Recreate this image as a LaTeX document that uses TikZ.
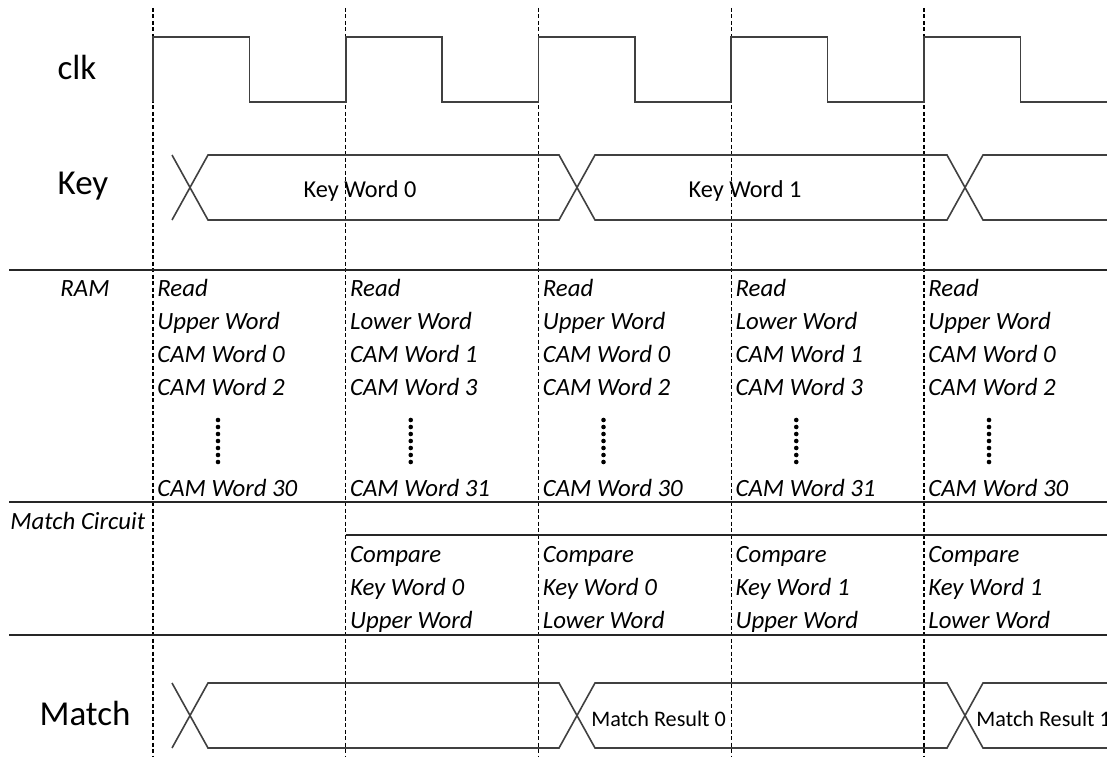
\documentclass[tikz,border=0pt]{standalone}
\usepackage{fontspec}
\setmainfont{Carlito}
\usetikzlibrary{positioning}

\tikzset{
  sepline/.style={line width=1.7pt, black!85},
  cycleline/.style={line width=1.1pt, dash pattern=on 4pt off 2.5pt},
  sigline/.style={line width=1.6pt, black!75, line join=miter},
  biglabel/.style={font=\fontsize{35}{40}\selectfont, anchor=base, inner sep=0pt},
  cell/.style={font=\fontsize{24.8}{28}\selectfont\itshape, anchor=base west, inner sep=0pt},
  buslabel/.style={font=\fontsize{24.3}{28}\selectfont, anchor=base, inner sep=0pt},
  reslabel/.style={font=\fontsize{22.2}{26}\selectfont, anchor=base west, inner sep=0pt},
}

\begin{document}
\begin{tikzpicture}[x=1pt, y=-1pt, >=stealth, thick]
        \useasboundingbox (0,0) rectangle (1107,757);

        % Cycle boundaries
        \foreach \i in {0,...,4}
            \draw[cycleline] ({153+192.75*\i},8) -- ++(0,749);

        % Row separators
        \draw[sepline] (9,270) -- (1107,270);
        \draw[sepline] (9,502) -- (1107,502);
        \draw[sepline] (345.75,535) -- (1107,535);
        \draw[sepline] (9,635) -- (1107,635);

        % Clock
        \draw[sigline] (153,102) \foreach \i in {0,...,3} { -- ++(0,-65) -- ++(96.4,0) -- ++(0,65) -- ++(96.35,0) }
            -- ++(0,-65) -- ++(96.4,0) -- ++(0,65) -- (1107,102);
        \node[biglabel] at (77,80) (clk) {clk};

        % Key and Match buses
        \foreach \t/\b in {155/220, 683/748} {
            \draw[sigline] (172,\t) -- (208,\b) -- (559,\b) -- (595,\t) -- (947,\t) -- (983,\b) -- (1107,\b);
            \draw[sigline] (172,\b) -- (208,\t) -- (559,\t) -- (595,\b) -- (947,\b) -- (983,\t) -- (1107,\t);
        }
        \node[biglabel] at (83,194) (key) {Key};
        \node[buslabel] at (360,197) (kw0) {Key Word 0};
        \node[buslabel] at (745,197) (kw1) {Key Word 1};
        \node[biglabel] at (85,725) (match) {Match};
        \node[reslabel] at (591,726) (res0) {Match Result 0};
        \node[reslabel] at (976,726) (res1) {Match Result 1};

        % RAM reads
        \node[cell, anchor=base] at (85,296) (ram) {RAM};
        \foreach \i/\half/\n in {0/Upper/0, 1/Lower/1, 2/Upper/0, 3/Lower/1, 4/Upper/0} {
            \pgfmathsetmacro{\xc}{157+192.75*\i}
            \pgfmathtruncatemacro{\secn}{\n+2}
            \pgfmathtruncatemacro{\lastn}{\n+30}
            \node[cell] at (\xc,296) (read\i) {Read};
            \node[cell] at (\xc,329) (half\i) {\half\ Word};
            \node[cell] at (\xc,362) (cama\i) {CAM Word \n};
            \node[cell] at (\xc,395) (camb\i) {CAM Word \secn};
            \node[cell] at (\xc,496) (camz\i) {CAM Word \lastn};
            \foreach \d in {0,...,6}
                \fill ({\xc+61},{420+7*\d}) circle (2.3pt);
        }

        % Match circuit
        \node[cell] at (10,529) (mc) {Match Circuit};
        \foreach \i/\k/\half in {1/0/Upper, 2/0/Lower, 3/1/Upper, 4/1/Lower} {
            \pgfmathsetmacro{\xc}{157+192.75*\i}
            \node[cell] at (\xc,562) (cmp\i) {Compare};
            \node[cell] at (\xc,595) (kwc\i) {Key Word \k};
            \node[cell] at (\xc,628) (hw\i) {\half\ Word};
        }

    \end{tikzpicture}
\end{document}
